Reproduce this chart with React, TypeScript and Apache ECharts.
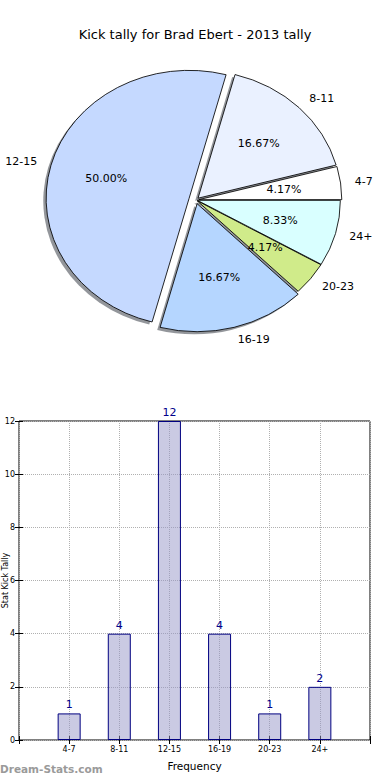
import React, { useEffect, useRef } from 'react';
import * as echarts from 'echarts';

// ---- data ----
const pieLabels = ['4-7', '8-11', '12-15', '16-19', '20-23', '24+'];
const pieValues = [1, 4, 12, 4, 1, 2];
const barCategories = ['4-7', '8-11', '12-15', '16-19', '20-23', '24+'];
const barValues = [1, 4, 12, 4, 1, 2];
const chartTitle = 'Kick tally for Brad Ebert - 2013 tally';
const xAxisTitle = 'Frequency';
const yAxisTitle = 'Stat Kick Tally';

// ---- styling ----
const pieColors = ['#ffffff', '#eaf1ff', '#c5d9ff', '#b5d6ff', '#d0eb8a', '#d9ffff'];
const explode = [0.02, 0.02, 0.05, 0.03, 0.01, 0.01];
const CX = 196;
const CY = 200;
const RX = 143;
const RY = 128;
const FONT = '"DejaVu Sans", sans-serif';

export default function App() {
  const ref = useRef<HTMLDivElement>(null);

  useEffect(() => {
    if (!ref.current) return;
    const chart = echarts.init(ref.current, undefined, { renderer: 'svg' });
    const total = pieValues.reduce((a, b) => a + b, 0);

    const option: any = {
      animation: false,
      title: {
        text: chartTitle,
        left: 'center',
        top: 23,
        textStyle: { fontFamily: FONT, fontSize: 13, fontWeight: 'normal', color: '#000' },
      },
      grid: {
        left: 19,
        right: 20,
        top: 421,
        bottom: 40,
        containLabel: false,
        outerBoundsMode: 'none',
        show: true,
        borderColor: '#000',
        borderWidth: 1,
        backgroundColor: 'transparent',
      },
      xAxis: [
        {
          type: 'value',
          min: 0,
          max: 7,
          interval: 1,
          axisLine: { show: false },
          axisTick: { show: true, inside: true, length: 4, lineStyle: { color: '#000' } },
          axisLabel: {
            fontFamily: FONT,
            fontSize: 8,
            color: '#000',
            margin: 5,
            formatter: (v: number) => barCategories[v - 1] ?? '',
          },
          splitLine: { show: true, lineStyle: { type: 'dotted', color: '#b0b0b0', width: 1 } },
          name: xAxisTitle,
          nameLocation: 'middle',
          nameGap: 20,
          nameMoveOverlap: false,
          nameTextStyle: { fontFamily: FONT, fontSize: 10.5, color: '#000' },
        },
        {
          type: 'value',
          position: 'top',
          min: 0,
          max: 7,
          interval: 1,
          axisLine: { show: false },
          axisTick: { show: true, inside: true, length: 4, lineStyle: { color: '#000' } },
          axisLabel: { show: false },
          splitLine: { show: false },
        },
      ],
      yAxis: [
        {
          type: 'value',
          min: 0,
          max: 12,
          interval: 2,
          axisLine: { show: false },
          axisTick: { show: true, inside: true, length: 4, lineStyle: { color: '#000' } },
          axisLabel: { fontFamily: FONT, fontSize: 8, color: '#000', margin: 4 },
          splitLine: { show: true, lineStyle: { type: 'dotted', color: '#b0b0b0', width: 1 } },
          name: yAxisTitle,
          nameLocation: 'middle',
          nameGap: 10,
          nameRotate: 90,
          nameMoveOverlap: false,
          nameTextStyle: { fontFamily: FONT, fontSize: 8, color: '#000' },
        },
        {
          type: 'value',
          position: 'right',
          min: 0,
          max: 12,
          interval: 2,
          axisLine: { show: false },
          axisTick: { show: true, inside: true, length: 4, lineStyle: { color: '#000' } },
          axisLabel: { show: false },
          splitLine: { show: false },
        },
      ],
      graphic: [
        {
          type: 'text',
          left: 0,
          top: 763,
          style: { text: 'Dream-Stats.com', fill: '#9a9a9a', font: 'bold 10.5px "DejaVu Sans", sans-serif' },
        },
      ],
      series: [
        {
          type: 'custom',
          coordinateSystem: 'none',
          data: pieValues.map((v) => [v]),
          renderItem: (params: any, api: any) => {
            const i = params.dataIndex;
            const v = api.value(0);
            const before = pieValues.slice(0, i).reduce((a, b) => a + b, 0);
            const a1 = (before / total) * 2 * Math.PI;
            const a2 = ((before + v) / total) * 2 * Math.PI;
            const mid = (a1 + a2) / 2;
            const e = explode[i];
            const cos = Math.cos(mid);
            const sin = Math.sin(mid);
            const dx = e * RY * cos;
            const dy = -e * RY * sin;
            const sh = 0.02 * RY;
            const align = cos > 0 ? 'left' : 'right';
            return {
              type: 'group',
              children: [
                {
                  type: 'group',
                  x: CX,
                  y: CY,
                  scaleX: RX / RY,
                  children: [
                    {
                      type: 'sector',
                      z2: 1,
                      shape: { cx: dx - sh, cy: dy + sh, r: RY, startAngle: -a2, endAngle: -a1, clockwise: true },
                      style: { fill: 'rgba(40,45,55,0.5)' },
                    },
                    {
                      type: 'sector',
                      z2: 10,
                      shape: { cx: dx, cy: dy, r: RY, startAngle: -a2, endAngle: -a1, clockwise: true },
                      style: { fill: pieColors[i], stroke: '#000', lineWidth: 0.8 },
                    },
                  ],
                },
                {
                  type: 'text',
                  z2: 20,
                  x: CX + (1.1 + e) * RX * cos,
                  y: CY - (1.1 + e) * RY * sin,
                  style: {
                    text: pieLabels[i],
                    fill: '#000',
                    font: '11px "DejaVu Sans", sans-serif',
                    textAlign: align,
                    textVerticalAlign: 'middle',
                    align: align,
                    verticalAlign: 'middle',
                  },
                },
                {
                  type: 'text',
                  z2: 20,
                  x: CX + (0.6 + e) * RX * cos,
                  y: CY - (0.6 + e) * RY * sin,
                  style: {
                    text: ((v / total) * 100).toFixed(2) + '%',
                    fill: '#000',
                    font: '11px "DejaVu Sans", sans-serif',
                    textAlign: 'center',
                    textVerticalAlign: 'middle',
                    align: 'center',
                    verticalAlign: 'middle',
                  },
                },
              ],
            };
          },
        },
        {
          type: 'bar',
          xAxisIndex: 0,
          yAxisIndex: 0,
          barWidth: 23,
          data: barCategories.map((c, i) => [i + 1, barValues[i]]),
          itemStyle: { color: 'rgba(150,150,200,0.5)', borderColor: '#000080', borderWidth: 1 },
          label: {
            show: true,
            position: 'top',
            distance: 3,
            color: '#00008b',
            fontFamily: FONT,
            fontSize: 11,
            formatter: (p: any) => String(p.value[1]),
          },
        },
      ],
    };

    chart.setOption(option);
    return () => chart.dispose();
  }, []);

  return <div ref={ref} style={{ position: 'absolute', left: 0, top: 0, width: 390, height: 780 }} />;
}
